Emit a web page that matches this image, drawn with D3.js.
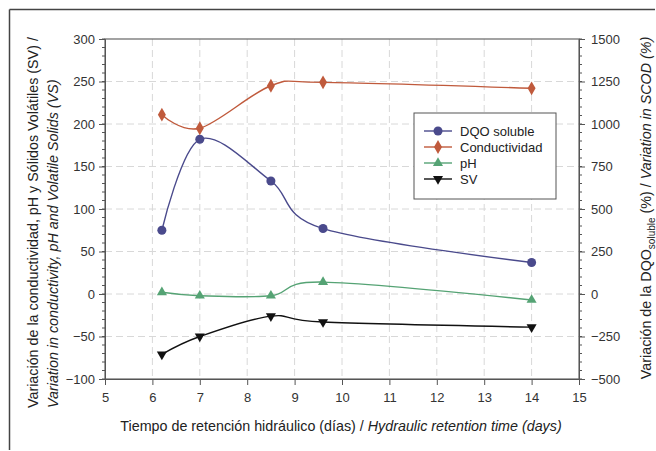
<!DOCTYPE html>
<html>
<head>
<meta charset="utf-8">
<script src="https://cdn.jsdelivr.net/npm/d3@7"></script>
<style>
  html, body { margin: 0; padding: 0; background: #fff; overflow: hidden; }
  svg { display: block; font-family: "Liberation Sans", Arial, sans-serif; }
</style>
</head>
<body>
<svg id="chart" width="656" height="451"></svg>
<script>
// data
const days = [6.2, 7, 8.5, 9.6, 14];
const dqoSoluble = [375, 910, 665, 385, 185];      // right axis (%)
const conductividad = [211, 195, 245, 249, 242];   // left axis
const ph = [2, -2, -2, 14, -7];                    // left axis
const sv = [-71, -50, -26, -33, -39];              // left axis

const xTicks = d3.range(5, 16, 1);
const yLeftTicks = d3.range(-100, 301, 50);
const yRightTicks = d3.range(-500, 1501, 250);

const series = [
  { name: 'DQO soluble', values: dqoSoluble, axis: 'right', color: '#4a4a8c', symbol: 'circle' },
  { name: 'Conductividad', values: conductividad, axis: 'left', color: '#c05a3c', symbol: 'diamond' },
  { name: 'pH', values: ph, axis: 'left', color: '#55a374', symbol: 'triangle' },
  { name: 'SV', values: sv, axis: 'left', color: '#111111', symbol: 'triangleDown' }
];

const svg = d3.select('#chart');
const margin = { top: 39, right: 77, bottom: 72, left: 105 };
const width = 656, height = 451;
const innerWidth = width - margin.left - margin.right;
const innerHeight = height - margin.top - margin.bottom;

// outer frame: only its top and left edges show in the original
svg.append('line')
  .attr('x1', 9.5).attr('x2', 9.5).attr('y1', 9.5).attr('y2', height - 1)
  .attr('stroke', '#444').attr('stroke-width', 1.5);
svg.append('line')
  .attr('x1', 9.5).attr('x2', width - 1).attr('y1', 9.5).attr('y2', 9.5)
  .attr('stroke', '#444').attr('stroke-width', 1.5);

const g = svg.append('g').attr('transform', `translate(${margin.left},${margin.top})`);

const x = d3.scaleLinear().domain([5, 15]).range([0, innerWidth]);
const yL = d3.scaleLinear().domain([-100, 300]).range([innerHeight, 0]);
const yR = d3.scaleLinear().domain([-500, 1500]).range([innerHeight, 0]);

// Grid
g.append('g')
  .selectAll('line')
  .data(xTicks.slice(1, -1))
  .join('line')
  .attr('x1', d => x(d)).attr('x2', d => x(d))
  .attr('y1', 0).attr('y2', innerHeight)
  .attr('stroke', '#d8d8d8').attr('stroke-dasharray', '7,4');

g.append('g')
  .selectAll('line')
  .data(yLeftTicks.slice(1, -1))
  .join('line')
  .attr('y1', d => yL(d)).attr('y2', d => yL(d))
  .attr('x1', 0).attr('x2', innerWidth)
  .attr('stroke', '#d8d8d8').attr('stroke-dasharray', '7,4');

// Frame of the plot
g.append('rect')
  .attr('width', innerWidth).attr('height', innerHeight)
  .attr('fill', 'none').attr('stroke', '#666').attr('stroke-width', 1.2);

const styleAxis = sel => {
  sel.attr('font-family', null).attr('font-size', null);
  sel.select('.domain').attr('stroke', '#555');
  sel.selectAll('line').attr('stroke', '#555');
  sel.selectAll('text').attr('fill', '#333').style('font-size', '13px');
};

// minor ticks (no labels)
g.append('g')
  .selectAll('line')
  .data(d3.range(-100, 301, 10))
  .join('line')
  .attr('x1', -3).attr('x2', 0)
  .attr('y1', d => yL(d)).attr('y2', d => yL(d))
  .attr('stroke', '#555');
g.append('g')
  .selectAll('line')
  .data(d3.range(-500, 1501, 50))
  .join('line')
  .attr('x1', innerWidth).attr('x2', innerWidth + 3)
  .attr('y1', d => yR(d)).attr('y2', d => yR(d))
  .attr('stroke', '#555');

// major axes
g.append('g')
  .attr('transform', `translate(0,${innerHeight})`)
  .call(d3.axisBottom(x).tickValues(xTicks).tickSize(6).tickPadding(8).tickFormat(d3.format('d')))
  .call(styleAxis);

g.append('g')
  .call(d3.axisLeft(yL).tickValues(yLeftTicks).tickSize(6).tickPadding(4).tickFormat(d3.format('d')))
  .call(styleAxis);

g.append('g')
  .attr('transform', `translate(${innerWidth},0)`)
  .call(d3.axisRight(yR).tickValues(yRightTicks).tickSize(6).tickPadding(6).tickFormat(d3.format('d')))
  .call(styleAxis);

// Lines and markers
const symbolFor = s => {
  if (s === 'circle') return d3.symbol(d3.symbolCircle, 64)();
  if (s === 'diamond') return d3.symbol(d3.symbolDiamond, 55)();
  return d3.symbol(d3.symbolTriangle, 44)();
};

series.forEach(s => {
  const y = s.axis === 'right' ? yR : yL;
  const pts = days.map((d, i) => [d, s.values[i]]);
  const line = d3.line()
    .x(d => x(d[0]))
    .y(d => y(d[1]))
    .curve(d3.curveCardinal.tension(0));
  g.append('path')
    .datum(pts)
    .attr('fill', 'none')
    .attr('stroke', s.color)
    .attr('stroke-width', 1.4)
    .attr('d', line);
  g.selectAll(null)
    .data(pts)
    .join('path')
    .attr('d', symbolFor(s.symbol))
    .attr('transform', d => `translate(${x(d[0])},${y(d[1])})${s.symbol === 'triangleDown' ? ' rotate(180)' : ''}`)
    .attr('fill', s.color);
});

// Legend
const legend = g.append('g').attr('transform', `translate(${414 - margin.left},${113 - margin.top})`);
legend.append('rect')
  .attr('width', 142).attr('height', 86)
  .attr('fill', '#fff').attr('stroke', '#555').attr('stroke-width', 1);
series.forEach((s, i) => {
  const ly = 18 + i * 16;
  legend.append('line')
    .attr('x1', 10).attr('x2', 38).attr('y1', ly).attr('y2', ly)
    .attr('stroke', s.color).attr('stroke-width', 1.4);
  legend.append('path')
    .attr('d', symbolFor(s.symbol))
    .attr('transform', `translate(24,${ly})${s.symbol === 'triangleDown' ? ' rotate(180)' : ''}`)
    .attr('fill', s.color);
  legend.append('text')
    .attr('x', 46).attr('y', ly + 4.5)
    .style('font-size', '13px').attr('fill', '#222')
    .text(s.name);
});

// Axis titles
const xTitle = svg.append('text')
  .attr('x', 341).attr('y', 431)
  .attr('text-anchor', 'middle')
  .style('font-size', '14.3px').attr('fill', '#222');
xTitle.append('tspan').text('Tiempo de retención hidráulico (días) / ');
xTitle.append('tspan').attr('font-style', 'italic').text('Hydraulic retention time (days)');

// both lines of the left title start at the same bottom point
const yTitle = svg.append('text')
  .attr('transform', 'translate(38,408) rotate(-90)')
  .attr('text-anchor', 'start')
  .style('font-size', '14.3px').attr('fill', '#222');
yTitle.append('tspan').attr('x', 0).attr('dy', 0)
  .text('Variación de la conductividad, pH y Sólidos Volátiles (SV) /');
yTitle.append('tspan').attr('x', 0).attr('dy', 20).attr('font-style', 'italic')
  .text('Variation in conductivity, pH and Volatile Solids (VS)');

const yTitleR = svg.append('text')
  .attr('transform', 'translate(651,208) rotate(-90)')
  .attr('text-anchor', 'middle')
  .style('font-size', '14.3px').attr('fill', '#222');
yTitleR.append('tspan').text('Variación de la DQO');
yTitleR.append('tspan').style('font-size', '10px').attr('dy', 4).text('soluble');
yTitleR.append('tspan').attr('dy', -4).text(' (%) / ');
yTitleR.append('tspan').attr('font-style', 'italic').text('Variation in SCOD (%)');
</script>
</body>
</html>
